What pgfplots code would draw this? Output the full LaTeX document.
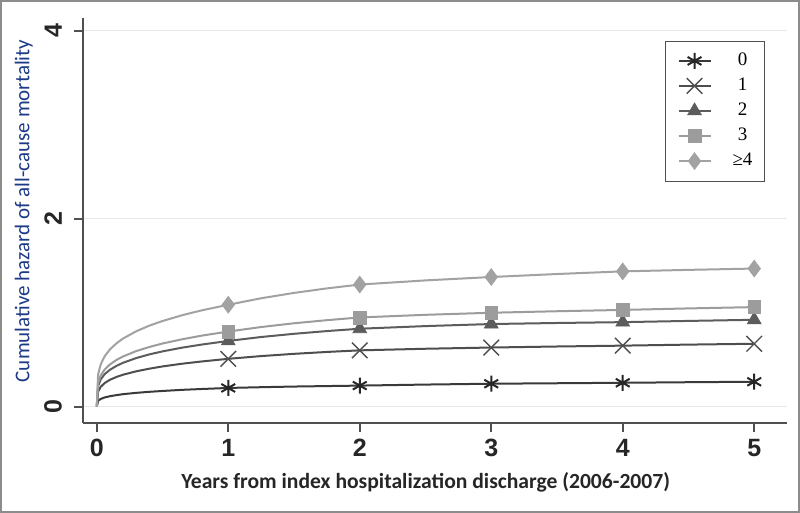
\documentclass[border=0pt]{standalone}
\usepackage{pgfplots}
\usepackage{pgfplotstable}
\pgfplotsset{compat=1.18}
\usepackage{fontspec}
\setmainfont{Liberation Sans}
\newfontfamily\carlito{Carlito}
\newfontfamily\lserif{Liberation Serif}

\definecolor{framegray}{HTML}{8C8C8C}
\definecolor{axisgray}{HTML}{505050}
\definecolor{gridgray}{HTML}{E8E8E8}
\definecolor{ylabblue}{RGB}{28,58,135}
\definecolor{cA}{HTML}{3A3A3A}
\definecolor{cB}{HTML}{4E4E4E}
\definecolor{cC}{HTML}{5C5C5C}
\definecolor{cD}{HTML}{9C9C9C}
\definecolor{cE}{HTML}{A2A2A2}

\pgfplotstableread{
t s0 s1 s2 s3 s4
0 0 0 0 0 0
0.01 0.063 0.161 0.221 0.253 0.343
0.03 0.083 0.212 0.291 0.333 0.451
0.06 0.099 0.252 0.347 0.396 0.537
0.1 0.112 0.287 0.393 0.450 0.610
0.15 0.124 0.317 0.435 0.498 0.675
0.2 0.134 0.341 0.468 0.535 0.726
0.3 0.148 0.377 0.518 0.592 0.803
0.4 0.159 0.405 0.557 0.636 0.863
0.5 0.168 0.429 0.589 0.673 0.912
0.65 0.180 0.458 0.629 0.718 0.974
0.8 0.189 0.482 0.662 0.757 1.026
1 0.200 0.510 0.700 0.800 1.085
1.25 0.208 0.539 0.742 0.848 1.154
1.5 0.215 0.563 0.776 0.888 1.211
1.75 0.220 0.583 0.805 0.921 1.259
2 0.225 0.600 0.830 0.950 1.300
2.5 0.236 0.617 0.858 0.978 1.344
3 0.245 0.630 0.880 1.000 1.380
3.5 0.250 0.641 0.891 1.016 1.412
4 0.255 0.650 0.900 1.030 1.440
4.5 0.261 0.661 0.913 1.046 1.456
5 0.266 0.670 0.925 1.060 1.470
}\haz

\begin{document}
\begin{tikzpicture}[x=0.5pt,y=0.5pt]
\path[use as bounding box] (0,0) rectangle (800,513);
\fill[white] (0,0) rectangle (800,513);
\draw[framegray, line width=1pt] (1,1) rectangle (799,512);
\begin{axis}[
  at={(63,96)}, anchor=south west,
  scale only axis, width=352pt, height=202.5pt,
  xmin=-0.106, xmax=5.248, ymin=-0.170, ymax=4.138,
  axis x line*=bottom, axis y line*=left,
  axis line style={-, draw=axisgray, line width=0.8pt},
  xtick={0,1,2,3,4,5}, ytick={0,2,4},
  tick align=outside, major tick length=4.5pt,
  tick style={draw=axisgray, line width=0.8pt},
  ymajorgrids, major grid style={draw=gridgray, line width=0.6pt},
  /pgf/number format/assume math mode=true,
  ticklabel style={font=\bfseries\fontsize{12.5}{12.5}\selectfont, text=black!85},
  yticklabel style={xshift=-2.5pt, rotate=90, anchor=south},
  xlabel={Years from index hospitalization discharge (2006-2007)},
  ylabel={Cumulative hazard of all-cause mortality},
  xlabel style={font=\carlito\bfseries\fontsize{10.8}{12}\selectfont, text=black!85,
    at={(axis description cs:0.487,-0.148)}, anchor=center},
  ylabel style={font=\carlito\fontsize{10.5}{12}\selectfont, text=ylabblue,
    at={(axis description cs:-0.0838,0.523)}, anchor=center},
  legend style={at={(0.827,0.943)}, anchor=north west, draw=axisgray, line width=0.5pt,
    font=\lserif\fontsize{9.5}{10}\selectfont, inner xsep=6pt, inner ysep=5.8pt,
    row sep=4.6pt, nodes={inner sep=0pt},
    /tikz/every odd column/.append style={column sep=10.5pt}},
  legend image code/.code={\draw[mark indices={2}] plot coordinates {(0pt,0pt) (8pt,0pt) (16pt,0pt)};},
  every axis plot/.append style={line width=1pt, mark indices={13,17,19,21,23}},
]
\addplot[color=cA, mark=asterisk, mark size=4pt, mark options={line width=1pt, draw=black!85}] table[x=t,y=s0] {\haz};
\addlegendentry{0}
\addplot[color=cB, mark=x, mark size=5.5pt, mark options={line width=0.7pt, draw=cB}] table[x=t,y=s1] {\haz};
\addlegendentry{1}
\addplot[color=cC, mark=triangle*, mark size=4pt, mark options={fill=cC, draw=cC, line width=0.3pt}] table[x=t,y=s2] {\haz};
\addlegendentry{2}
\addplot[color=cD, mark=square*, mark size=3.2pt, mark options={fill=cD, draw=cD, line width=0.3pt}] table[x=t,y=s3] {\haz};
\addlegendentry{3}
\addplot[color=cE, mark=diamond*, mark size=4.2pt, mark options={fill=cE, draw=cE, line width=0.3pt}] table[x=t,y=s4] {\haz};
\addlegendentry{≥4}
\end{axis}
\end{tikzpicture}
\end{document}
